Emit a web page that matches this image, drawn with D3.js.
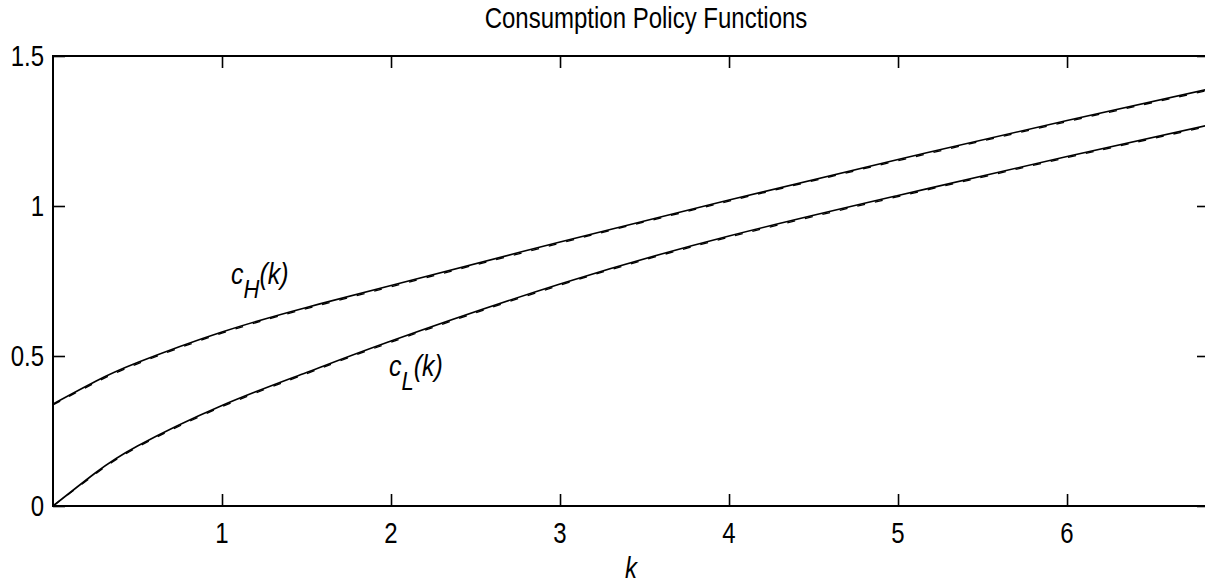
<!DOCTYPE html>
<html>
<head>
<meta charset="utf-8">
<script src="https://cdn.jsdelivr.net/npm/d3@7"></script>
<style>
  body { margin: 0; background: #fff; }
  text { font-family: "Liberation Sans", Arial, sans-serif; fill: #000; }
</style>
</head>
<body>
<div id="dataviz_area"></div>
<script>
// capital grid and policy values
var kGrid = [0, 0.25, 0.5, 1, 1.5, 2, 3, 4, 5, 6, 6.84];
var cHigh = [0.34, 0.415, 0.478, 0.58, 0.662, 0.735, 0.88, 1.02, 1.155, 1.285, 1.39];
var cLow = [0, 0.11, 0.2, 0.335, 0.445, 0.55, 0.74, 0.9, 1.035, 1.165, 1.27];
// dashed approximation, almost on top of the solid curves
var cHighApprox = [0.337, 0.411, 0.474, 0.576, 0.658, 0.731, 0.876, 1.016, 1.151, 1.281, 1.386];
var cLowApprox = [0, 0.106, 0.196, 0.331, 0.441, 0.546, 0.736, 0.896, 1.031, 1.161, 1.266];
var xTicks = [1, 2, 3, 4, 5, 6];
var yTicks = [0, 0.5, 1, 1.5];

var margin = {top: 56, right: -4, bottom: 80, left: 53};
var W = 1205, H = 586;
var width = W - margin.left - margin.right;
var height = H - margin.top - margin.bottom;

var svg = d3.select("#dataviz_area")
    .append("svg")
    .attr("width", W)
    .attr("height", H);

var g = svg.append("g")
    .attr("transform", "translate(" + margin.left + "," + margin.top + ")");

var x = d3.scaleLinear().domain([0, 6.84]).range([0, width]);
var y = d3.scaleLinear().domain([0, 1.5]).range([height, 0]);

function label(sel, size) {
  return sel.style("font-size", size + "px");
}

// ticks pointing inward on all sides
g.append("g").attr("transform", "translate(0," + height + ")")
  .call(d3.axisBottom(x).tickValues(xTicks).tickSizeInner(-12).tickSizeOuter(0).tickFormat(""));
g.append("g")
  .call(d3.axisTop(x).tickValues(xTicks).tickSizeInner(-12).tickSizeOuter(0).tickFormat(""));
g.append("g")
  .call(d3.axisLeft(y).tickValues(yTicks).tickSizeInner(-12).tickSizeOuter(0).tickFormat(""));
g.append("g").attr("transform", "translate(" + width + ",0)")
  .call(d3.axisRight(y).tickValues(yTicks).tickSizeInner(-12).tickSizeOuter(0).tickFormat(""));
g.selectAll(".domain").remove();
g.selectAll(".tick line").attr("stroke", "#000").attr("stroke-width", 1.6);

g.append("rect")
  .attr("width", width).attr("height", height)
  .attr("fill", "none").attr("stroke", "#000").attr("stroke-width", 2);

// tick labels (text in the picture is a bit taller than wide)
xTicks.forEach(function(t) {
  g.append("text")
    .attr("transform", "translate(" + x(t) + "," + (height + 37) + ") scale(1,1.2)")
    .attr("text-anchor", "middle")
    .call(label, 24)
    .text(t);
});
yTicks.forEach(function(t) {
  g.append("text")
    .attr("transform", "translate(-9," + (y(t) + 10) + ") scale(1,1.2)")
    .attr("text-anchor", "end")
    .call(label, 24)
    .text(t);
});

var line = d3.line()
  .x(function(d) { return x(d[0]); })
  .y(function(d) { return y(d[1]); })
  .curve(d3.curveNatural);

[cHigh, cLow].forEach(function(s) {
  g.append("path")
    .datum(kGrid.map(function(k, i) { return [k, s[i]]; }))
    .attr("d", line)
    .attr("fill", "none").attr("stroke", "#000").attr("stroke-width", 1.6);
});
[cHighApprox, cLowApprox].forEach(function(s) {
  g.append("path")
    .datum(kGrid.map(function(k, i) { return [k, s[i]]; }))
    .attr("d", line)
    .attr("fill", "none").attr("stroke", "#000").attr("stroke-width", 1.3)
    .attr("stroke-dasharray", "8,10");
});

// curve annotations
function curveLabel(px, py, sub) {
  var t = svg.append("text")
    .attr("transform", "translate(" + px + "," + py + ") scale(1,1.2)")
    .style("font-style", "italic")
    .call(label, 25);
  t.append("tspan").text("c");
  t.append("tspan").attr("dy", 12).style("font-size", "22px").text(sub);
  t.append("tspan").attr("dy", -12).text("(k)");
}
curveLabel(231, 284, "H");
curveLabel(389, 376, "L");

// title and axis name
svg.append("text")
  .attr("transform", "translate(646,28) scale(1,1.2)")
  .attr("text-anchor", "middle")
  .call(label, 24)
  .text("Consumption Policy Functions");

svg.append("text")
  .attr("transform", "translate(631,578) scale(1,1.2)")
  .attr("text-anchor", "middle")
  .style("font-style", "italic")
  .call(label, 24)
  .text("k");
</script>
</body>
</html>
